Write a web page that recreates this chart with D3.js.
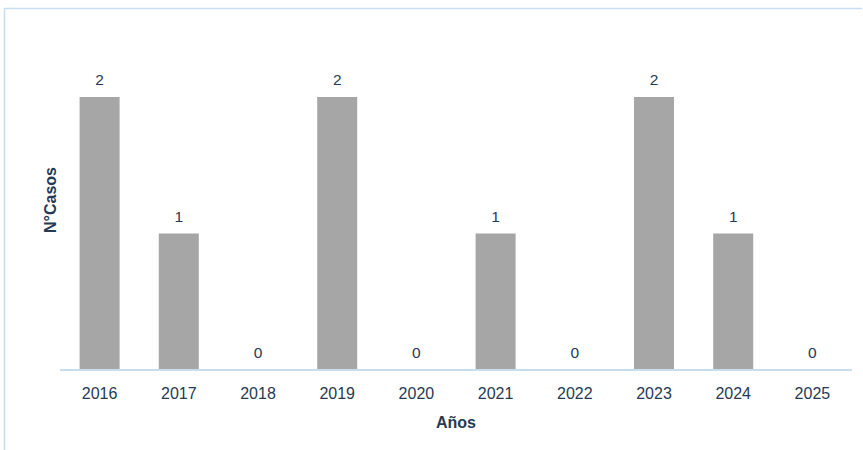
<!DOCTYPE html>
<html>
<head>
<meta charset="utf-8">
<script src="https://cdn.jsdelivr.net/npm/d3@7"></script>
<style>
  body { margin: 0; background: #fff; }
  svg { display: block; font-family: "Liberation Sans", Arial, sans-serif; }
</style>
</head>
<body>
<div id="chart"></div>
<script>
// datos
const years = ["2016", "2017", "2018", "2019", "2020", "2021", "2022", "2023", "2024", "2025"];
const casos = [2, 1, 0, 2, 0, 1, 0, 2, 1, 0];

const W = 863, H = 450;
const margin = { top: 97, right: 11, bottom: 80, left: 60 };
const width = W - margin.left - margin.right;
const height = H - margin.top - margin.bottom;

const textColor = "#253a54";
const barColor = "#a6a6a6";
const lineColor = "#c8ddf0";

const svg = d3.select("#chart").append("svg")
    .attr("width", W)
    .attr("height", H);

// marco exterior
svg.append("path")
    .attr("d", `M4.5,${H} V8.5 H${W - 1}`)
    .attr("fill", "none")
    .attr("stroke", lineColor)
    .attr("stroke-width", 1.5);

const g = svg.append("g")
    .attr("transform", `translate(${margin.left},${margin.top})`);

const x = d3.scaleBand()
    .domain(years)
    .range([0, width])
    .paddingInner(0.495)
    .paddingOuter(0.2475);

const y = d3.scaleLinear()
    .domain([0, 2])
    .range([height, 0]);

// barras
g.selectAll(".bar")
    .data(years)
    .enter().append("rect")
    .attr("class", "bar")
    .attr("x", d => x(d))
    .attr("y", (d, i) => y(casos[i]))
    .attr("width", x.bandwidth())
    .attr("height", (d, i) => height - y(casos[i]))
    .attr("fill", barColor);

// etiquetas de valor
g.selectAll(".val")
    .data(years)
    .enter().append("text")
    .attr("class", "val")
    .attr("x", d => x(d) + x.bandwidth() / 2)
    .attr("y", (d, i) => y(casos[i]) - 12)
    .attr("text-anchor", "middle")
    .attr("font-size", 15.5)
    .attr("fill", textColor)
    .text((d, i) => casos[i]);

// eje X
const xAxis = g.append("g")
    .attr("transform", `translate(0,${height})`)
    .call(d3.axisBottom(x).tickSize(0).tickPadding(0));
xAxis.select(".domain")
    .attr("stroke", lineColor)
    .attr("stroke-width", 2)
    .attr("d", `M0,0H${width}`);
xAxis.selectAll("text")
    .attr("dy", null)
    .attr("y", 29)
    .attr("font-size", 16)
    .attr("font-family", "Liberation Sans, Arial, sans-serif")
    .attr("fill", textColor);

// títulos de ejes
svg.append("text")
    .attr("x", margin.left + width / 2)
    .attr("y", 428)
    .attr("text-anchor", "middle")
    .attr("font-size", 16)
    .attr("font-weight", "bold")
    .attr("fill", textColor)
    .text("Años");

svg.append("text")
    .attr("transform", "translate(56,200) rotate(-90)")
    .attr("text-anchor", "middle")
    .attr("font-size", 16)
    .attr("font-weight", "bold")
    .attr("fill", textColor)
    .text("N°Casos");
</script>
</body>
</html>
